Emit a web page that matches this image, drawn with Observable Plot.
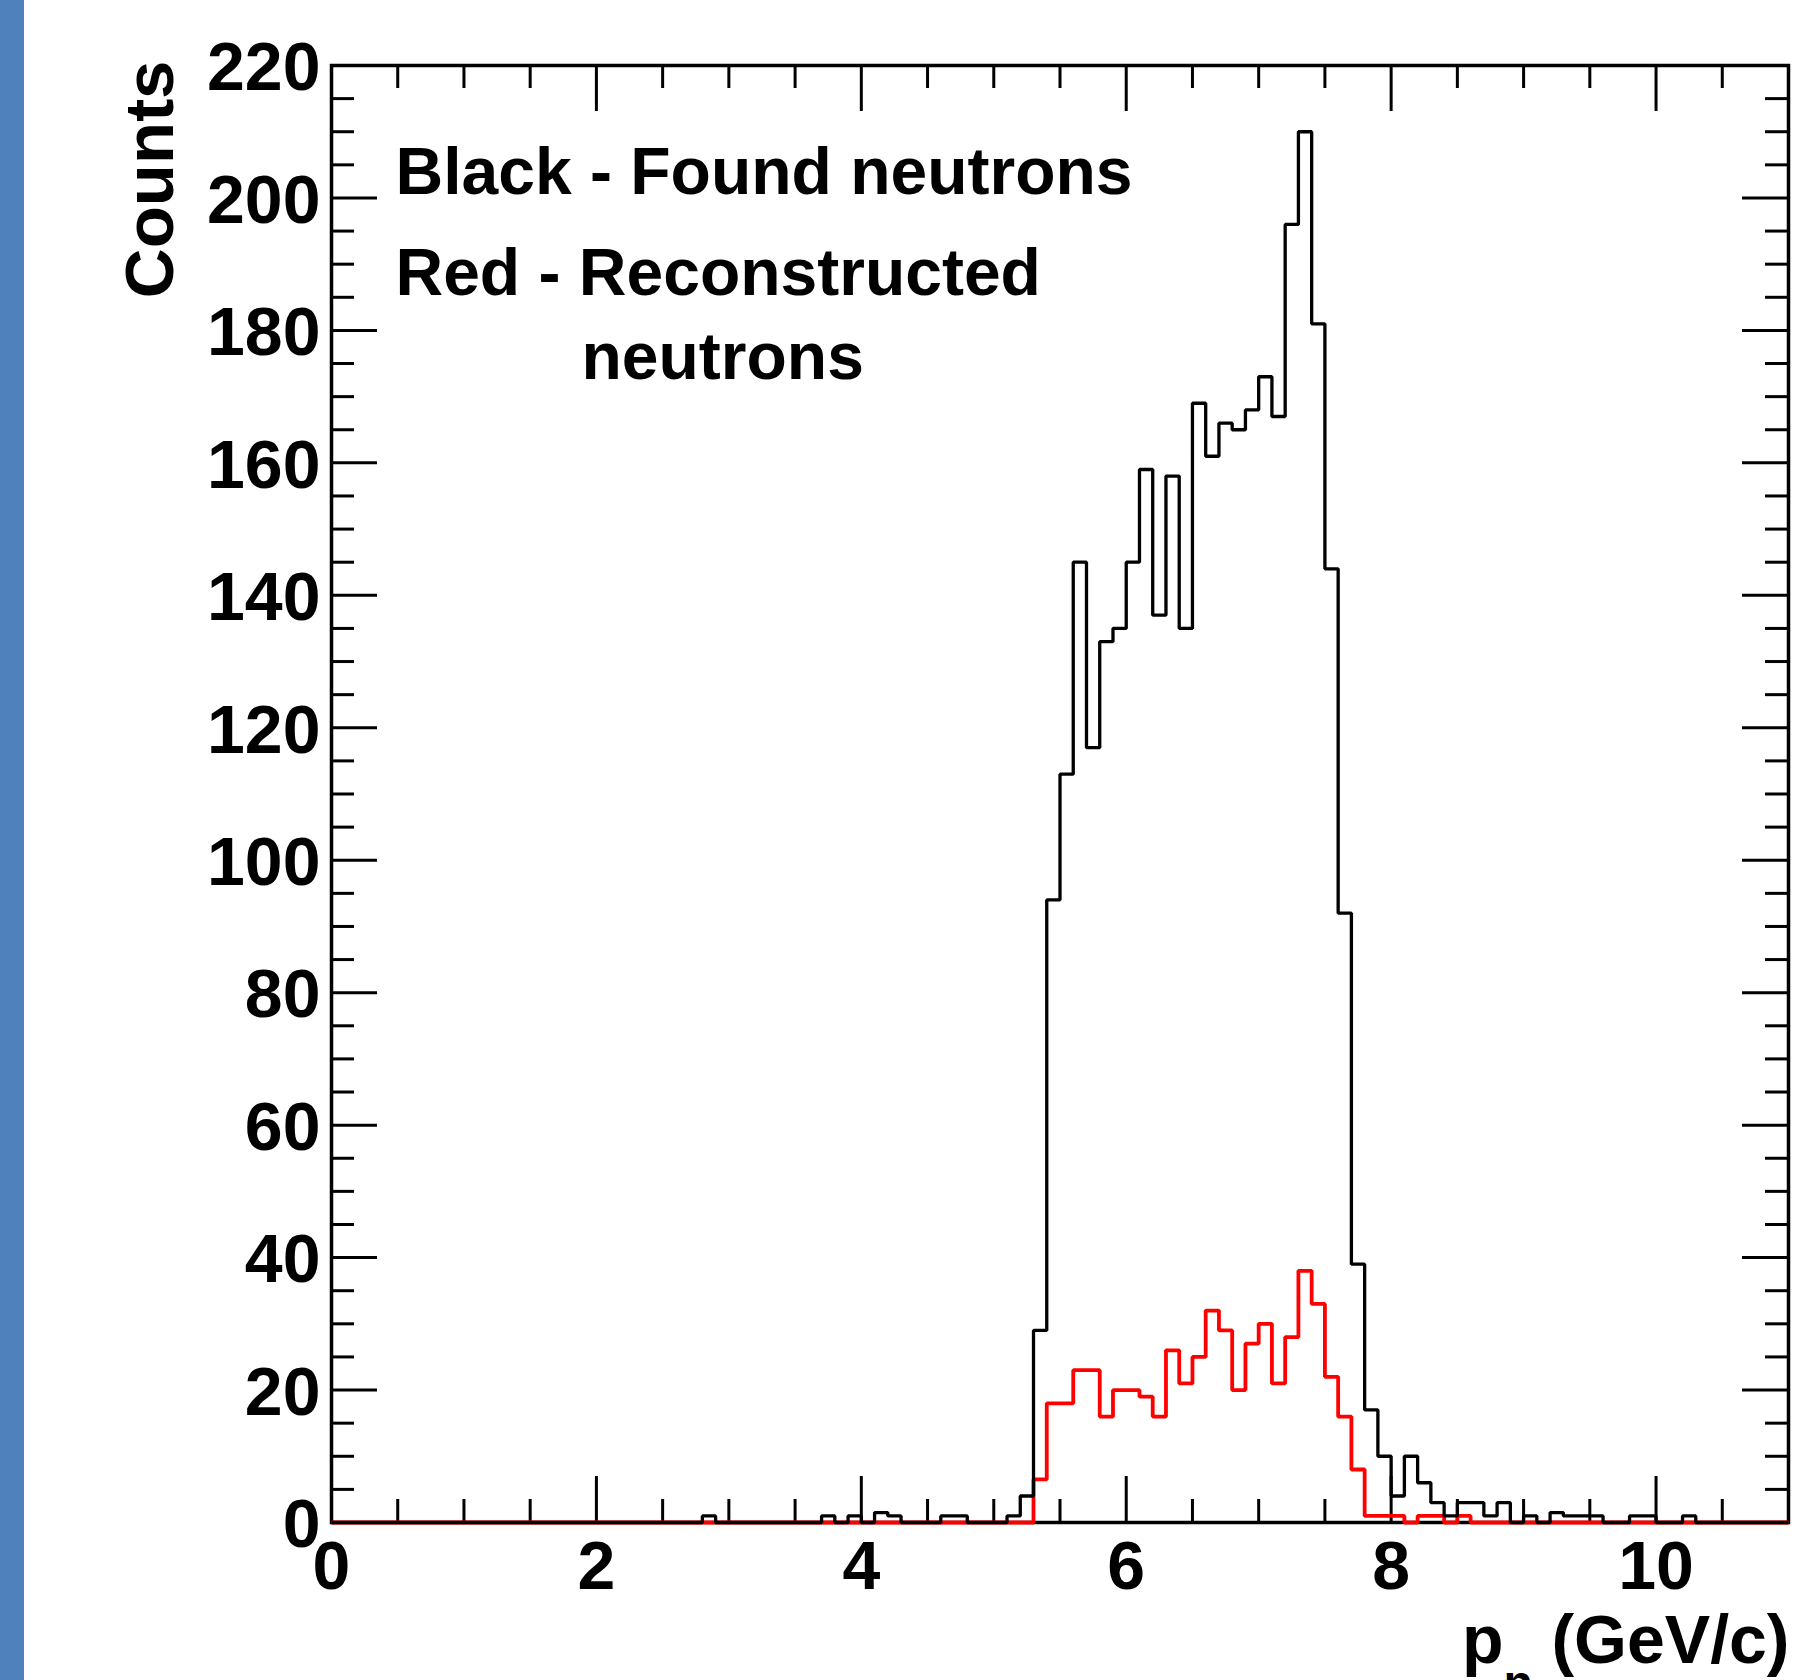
<!DOCTYPE html>
<html>
<head>
<meta charset="utf-8">
<script src="https://cdn.jsdelivr.net/npm/d3@7"></script>
<script src="https://cdn.jsdelivr.net/npm/@observablehq/plot@0.6"></script>
<style>
  html, body { margin: 0; padding: 0; background: white; overflow: hidden; }
  #wrap { position: relative; width: 1798px; height: 1680px; }
  #bar { position: absolute; left: 0; top: 0; width: 24px; height: 1680px; background: #4f81bd; }
  #chart { position: absolute; left: 0; top: 0; }
</style>
</head>
<body>
<div id="wrap"><div id="chart"></div><div id="bar"></div></div>
<script>
// Lower edges (GeV/c) of the non-empty 0.1-wide bins
const binLow = [2.8, 3.7, 3.9, 4.1, 4.2, 4.6, 4.7, 5.1, 5.2, 5.3,
  5.4, 5.5, 5.6, 5.7, 5.8, 5.9, 6.0, 6.1, 6.2, 6.3,
  6.4, 6.5, 6.6, 6.7, 6.8, 6.9, 7.0, 7.1, 7.2, 7.3,
  7.4, 7.5, 7.6, 7.7, 7.8, 7.9, 8.0, 8.1, 8.2, 8.3,
  8.4, 8.5, 8.6, 8.7, 8.8, 9.0, 9.2, 9.3, 9.4, 9.5,
  9.8, 9.9, 10.2];
// Black - Found neutrons
const foundCounts = [1, 1, 1, 1.5, 1, 1, 1, 1, 4, 29,
  94, 113, 145, 117, 133, 135, 145, 159, 137, 158,
  135, 169, 161, 166, 165, 168, 173, 167, 196, 210,
  181, 144, 92, 39, 17, 10, 4, 10, 6, 3,
  1, 3, 3, 1, 3, 1, 1.5, 1, 1, 1,
  1, 1, 1];
// Red - Reconstructed neutrons
const reconCounts = [0, 0, 0, 0, 0, 0, 0, 0, 0, 6.5,
  18, 18, 23, 23, 16, 20, 20, 19, 16, 26,
  21, 25, 32, 29, 20, 27, 30, 21, 28, 38,
  33, 22, 16, 8, 1, 1, 1, 0, 1, 1,
  0, 1, 0, 0, 0, 0, 0, 0, 0, 0,
  0, 0, 0];

const xMajor = [0, 2, 4, 6, 8, 10];
const xMinor = [0.5, 1, 1.5, 2.5, 3, 3.5, 4.5, 5, 5.5, 6.5, 7, 7.5, 8.5, 9, 9.5, 10.5];
const yMajor = [0, 20, 40, 60, 80, 100, 120, 140, 160, 180, 200, 220];
const yMinor = [5, 10, 15, 25, 30, 35, 45, 50, 55, 65, 70, 75, 85, 90, 95, 105, 110, 115,
  125, 130, 135, 145, 150, 155, 165, 170, 175, 185, 190, 195, 205, 210, 215];

const nBins = 110, binWidth = 0.1;
const lookup = new Map(binLow.map((b, i) => [Math.round(b / binWidth), i]));
function steps(counts) {
  const pts = [];
  for (let k = 0; k <= nBins; k++) {
    const v = (k < nBins && lookup.has(k)) ? counts[lookup.get(k)] : 0;
    pts.push({x: k * binWidth, y: v});
  }
  return pts;
}
const foundSteps = steps(foundCounts);
const reconSteps = steps(reconCounts);

const W = 1798, H = 1680;
const mL = 331, mR = 10, mT = 65, mB = 158;
const pw = W - mL - mR, ph = H - mT - mB;
const majorLen = 46, minorLen = 23;
const font = "'Liberation Sans', Arial, Helvetica, sans-serif";
const fmt = d => String(d);

const chart = Plot.plot({
  width: W, height: H,
  marginLeft: mL, marginRight: mR, marginTop: mT, marginBottom: mB,
  x: {domain: [0, 11]},
  y: {domain: [0, 220]},
  style: {fontFamily: font, background: "white", color: "black", overflow: "visible"},
  marks: [
    Plot.frame({stroke: "black", strokeWidth: 3.5}),
    // bottom / top ticks
    Plot.tickX(xMajor, {x: d => d, insetTop: ph - majorLen, strokeWidth: 3}),
    Plot.tickX(xMinor, {x: d => d, insetTop: ph - minorLen, strokeWidth: 3}),
    Plot.tickX(xMajor, {x: d => d, insetBottom: ph - majorLen, strokeWidth: 3}),
    Plot.tickX(xMinor, {x: d => d, insetBottom: ph - minorLen, strokeWidth: 3}),
    // left / right ticks
    Plot.tickY(yMajor, {y: d => d, insetRight: pw - majorLen, strokeWidth: 3}),
    Plot.tickY(yMinor, {y: d => d, insetRight: pw - minorLen, strokeWidth: 3}),
    Plot.tickY(yMajor, {y: d => d, insetLeft: pw - majorLen, strokeWidth: 3}),
    Plot.tickY(yMinor, {y: d => d, insetLeft: pw - minorLen, strokeWidth: 3}),
    Plot.axisX(xMajor, {tickSize: 0, tickPadding: 18, fontSize: 68, fontWeight: "bold", label: null, tickFormat: fmt}),
    Plot.axisY(yMajor, {tickSize: 0, tickPadding: 11, fontSize: 68, fontWeight: "bold", label: null, dy: 3, tickFormat: fmt}),
    // histograms
    Plot.line(reconSteps, {x: "x", y: "y", curve: "step-after", stroke: "#ff0000", strokeWidth: 3.8,
      strokeLinejoin: "miter", strokeLinecap: "butt"}),
    Plot.line(foundSteps, {x: "x", y: "y", curve: "step-after", stroke: "black", strokeWidth: 3.3,
      strokeLinejoin: "miter", strokeLinecap: "butt"}),
    // axis titles
    Plot.text(["Counts"], {text: d => d, frameAnchor: "top-left", rotate: -90, textAnchor: "end",
      lineAnchor: "bottom", dx: 172 - mL, dy: 60 - mT, fontSize: 69, fontWeight: "bold"}),
    Plot.text(["(GeV/c)"], {text: d => d, frameAnchor: "bottom-right", textAnchor: "end",
      lineAnchor: "bottom", dx: 1, dy: 140, fontSize: 68, fontWeight: "bold"}),
    Plot.text(["p"], {text: d => d, frameAnchor: "bottom-right", textAnchor: "end",
      lineAnchor: "bottom", dx: 1503 - (W - mR), dy: 140, fontSize: 68, fontWeight: "bold"}),
    Plot.text(["n"], {text: d => d, frameAnchor: "bottom-right", textAnchor: "start",
      lineAnchor: "bottom", dx: 1503 - (W - mR), dy: 176, fontSize: 48, fontWeight: "bold"}),
    // legend text
    Plot.text(["Black - Found neutrons"], {text: d => d, frameAnchor: "top-left", textAnchor: "start",
      lineAnchor: "bottom", dx: 395 - mL, dy: 193 - mT, fontSize: 66, fontWeight: "bold"}),
    Plot.text(["Red - Reconstructed"], {text: d => d, frameAnchor: "top-left", textAnchor: "start",
      lineAnchor: "bottom", dx: 395 - mL, dy: 294 - mT, fontSize: 66, fontWeight: "bold"}),
    Plot.text(["neutrons"], {text: d => d, frameAnchor: "top-left", textAnchor: "start",
      lineAnchor: "bottom", dx: 581 - mL, dy: 378 - mT, fontSize: 66, fontWeight: "bold"})
  ]
});
document.getElementById("chart").appendChild(chart);
</script>
</body>
</html>
